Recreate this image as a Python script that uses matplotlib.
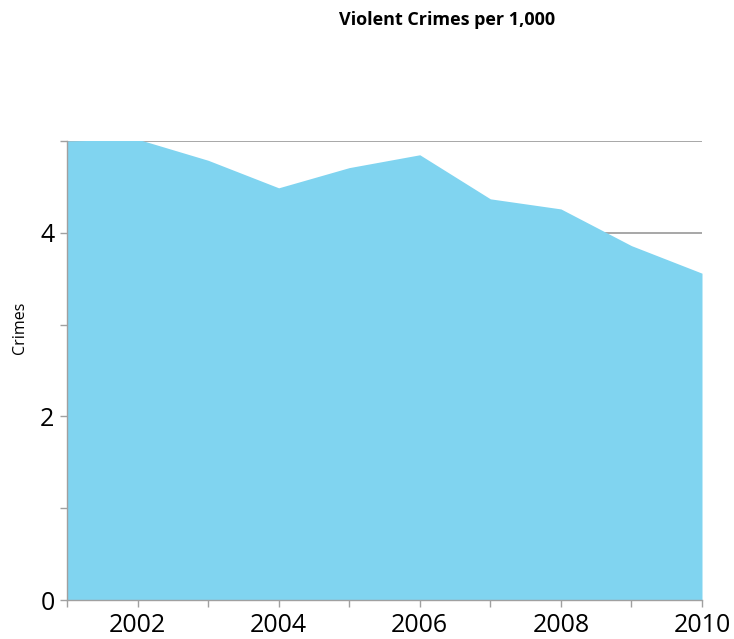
import matplotlib
matplotlib.use("Agg")
import matplotlib.pyplot as plt

years = [2001, 2002, 2003, 2004, 2005, 2006, 2007, 2008, 2009, 2010]
crimes = [5.0, 5.02, 4.79, 4.49, 4.71, 4.85, 4.37, 4.26, 3.86, 3.56]
xtick_labels = ["2002", "2004", "2006", "2008", "2010"]
xtick_pos = [2002, 2004, 2006, 2008, 2010]
ytick_major = [0, 2, 4]
ytick_minor = [1, 3, 5]

plt.rcParams['font.family'] = ['Open Sans', 'DejaVu Sans']

fig = plt.figure(figsize=(7.34, 6.39), dpi=100)
ax = fig.add_axes([67/734, 1-600/639, (702-67)/734, (600-141)/639])

ax.set_xlim(2001, 2010)
ax.set_ylim(0, 5)
for g in [4, 5]:
    ax.axhline(g, color='#a0a0a0', lw=1.3, zorder=1)
ax.fill_between(years, crimes, 0, color='#80d4f0', lw=0, zorder=2)

for s in ['top', 'right']:
    ax.spines[s].set_visible(False)
for s in ['left', 'bottom']:
    ax.spines[s].set_color('#a0a0a0')
    ax.spines[s].set_linewidth(1.0)
    ax.spines[s].set_zorder(3)

ax.set_xticks(years, minor=True)
ax.set_xticks(xtick_pos)
ax.set_xticklabels(xtick_labels)
ax.set_yticks(ytick_major)
ax.set_yticks(ytick_minor, minor=True)
ax.tick_params(axis='both', which='both', color='#a0a0a0', length=5, width=1)
ax.tick_params(axis='both', which='major', labelsize=18, labelcolor='black')
ax.tick_params(axis='x', which='major', pad=4)
ax.tick_params(axis='y', which='major', pad=4)

fig.text(20/734, 1-328/639, 'Crimes', rotation=90, ha='center', va='center', fontsize=11.5)
fig.text(447/734, 1-20/639, 'Violent Crimes per 1,000', ha='center', va='center',
         fontsize=13, fontweight='bold')

fig.savefig('out.png', dpi=100)
